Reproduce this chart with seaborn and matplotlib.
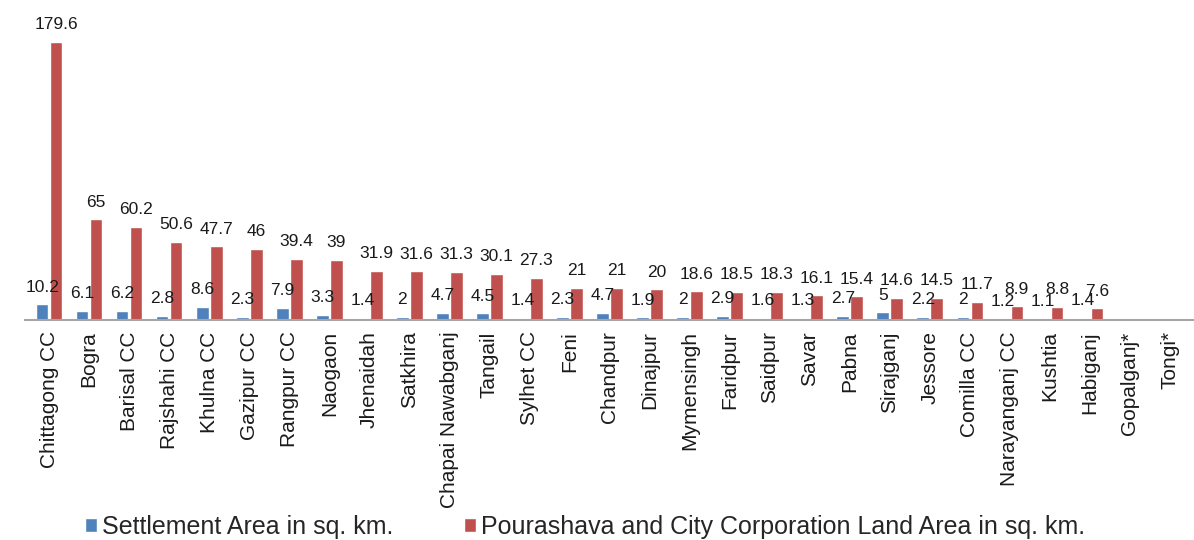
import numpy as np
import pandas as pd
import matplotlib
matplotlib.use('Agg')
import matplotlib.pyplot as plt
import seaborn as sns

towns = ['Chittagong CC', 'Bogra', 'Barisal CC', 'Rajshahi CC', 'Khulna CC', 'Gazipur CC',
         'Rangpur CC', 'Naogaon', 'Jhenaidah', 'Satkhira', 'Chapai Nawabganj', 'Tangail',
         'Sylhet CC', 'Feni', 'Chandpur', 'Dinajpur', 'Mymensingh', 'Faridpur', 'Saidpur',
         'Savar', 'Pabna', 'Sirajganj', 'Jessore', 'Comilla CC', 'Narayanganj CC', 'Kushtia',
         'Habiganj', 'Gopalganj*', 'Tongi*']
settlement = [10.2, 6.1, 6.2, 2.8, 8.6, 2.3, 7.9, 3.3, 1.4, 2, 4.7, 4.5, 1.4, 2.3, 4.7, 1.9,
              2, 2.9, 1.6, 1.3, 2.7, 5, 2.2, 2, 1.2, 1.1, 1.4, np.nan, np.nan]
land_area = [179.6, 65, 60.2, 50.6, 47.7, 46, 39.4, 39, 31.9, 31.6, 31.3, 30.1, 27.3, 21, 21,
             20, 18.6, 18.5, 18.3, 16.1, 15.4, 14.6, 14.5, 11.7, 8.9, 8.8, 7.6, np.nan, np.nan]

s1 = 'Settlement Area in sq. km.'
s2 = 'Pourashava and City Corporation Land Area in sq. km.'

df = pd.concat([
    pd.DataFrame({'town': towns, 'series': s1, 'value': settlement}),
    pd.DataFrame({'town': towns, 'series': s2, 'value': land_area}),
], ignore_index=True)

sns.set_style('white')
plt.rcParams['font.family'] = ['Liberation Sans', 'DejaVu Sans']

fig = plt.figure(figsize=(11.94, 5.4), dpi=100)
ax = fig.add_axes([0.021, 0.407, 0.979, 0.574])

sns.barplot(data=df, x='town', y='value', hue='series', order=towns, hue_order=[s1, s2],
            palette=['#4F81BD', '#C0504D'], saturation=1, width=0.7, gap=0.1,
            ax=ax, legend=True)

# value labels; settlement labels sit a little left of their bar, as in the source
for cont, dx in zip(ax.containers, [-3, 2]):
    ax.bar_label(cont, fmt='%g', padding=7, fontsize=12.5, color='#1a1a1a')
    for t in ax.texts[-len(cont):]:
        t.set_transform(t.get_transform() +
                        matplotlib.transforms.ScaledTranslation(dx / 72, 0, fig.dpi_scale_trans))

ax.set_ylim(0, 200)
ax.set_xlim(-0.6, len(towns) - 0.4)
ax.set_yticks([])
ax.set_xlabel('')
ax.set_ylabel('')
for side in ['top', 'right', 'left']:
    ax.spines[side].set_visible(False)
ax.spines['bottom'].set_color('#a6a6a6')
ax.spines['bottom'].set_linewidth(1.5)
ax.tick_params(axis='x', length=0, pad=8)
plt.setp(ax.get_xticklabels(), rotation=90, fontsize=15, color='#1a1a1a')

handles, labels = ax.get_legend_handles_labels()
ax.get_legend().remove()
fig.legend(handles, labels, loc='lower center', ncol=2, frameon=False, fontsize=18,
           handlelength=0.5, handleheight=0.5, handletextpad=0.2, columnspacing=2.8,
           bbox_to_anchor=(0.49, -0.04))

fig.savefig('out.png', dpi=100)
